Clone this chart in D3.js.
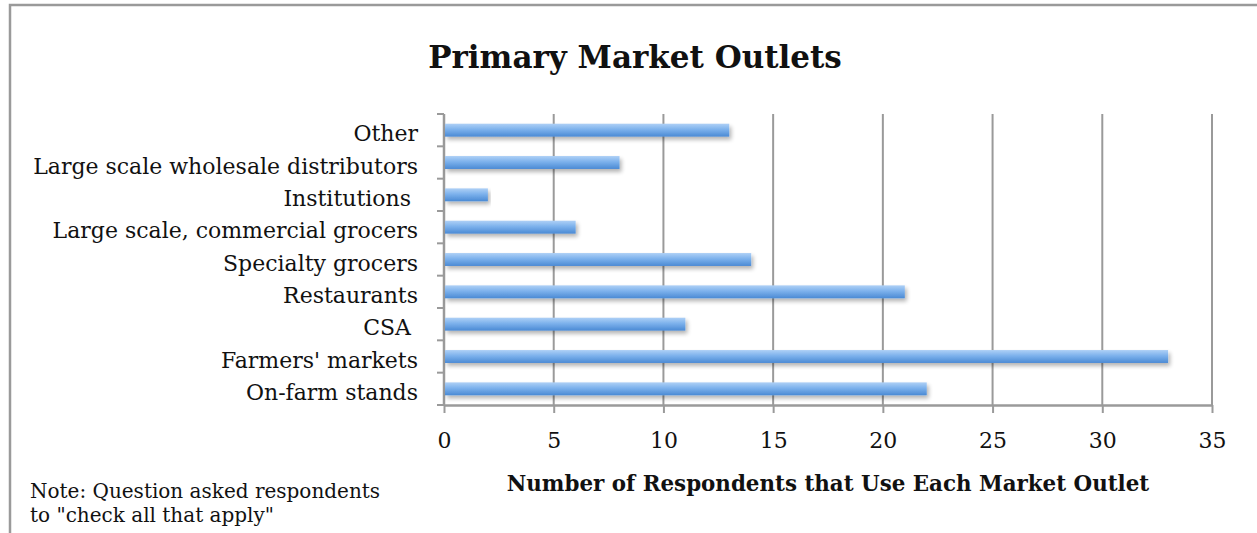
<!DOCTYPE html>
<html>
<head>
<meta charset="utf-8">
<script src="https://cdn.jsdelivr.net/npm/d3@7"></script>
<style>
  html, body { margin: 0; padding: 0; background: #fff; }
  svg { display: block; }
  text { white-space: pre; }
</style>
</head>
<body>
<svg id="chart" width="1257" height="533"></svg>
<script>
// Market outlet categories, top to bottom
const categories = [
  "Other",
  "Large scale wholesale distributors",
  "Institutions ",
  "Large scale, commercial grocers",
  "Specialty grocers",
  "Restaurants",
  "CSA ",
  "Farmers' markets",
  "On-farm stands"
];
// Respondents using each outlet
const values = [13, 8, 2, 6, 14, 21, 11, 33, 22];
const xTicks = [0, 5, 10, 15, 20, 25, 30, 35];

const title = "Primary Market Outlets";
const xTitle = "Number of Respondents that Use Each Market Outlet";
const noteLines = ["Note: Question asked respondents", "to \"check all that apply\""];

const svg = d3.select("#chart");
const serif = "'DejaVu Serif', 'Liberation Serif', serif";
const gridColor = "#9a9a9a";

const plot = { left: 444, right: 1212, top: 114, bottom: 405 };

const x = d3.scaleLinear().domain([0, 35]).range([plot.left, plot.right]);
const y = d3.scaleBand().domain(categories).range([plot.top, plot.bottom]).paddingInner(0.6).paddingOuter(0.3);

// Defs: bar gradient and soft shadow
const defs = svg.append("defs");
const grad = defs.append("linearGradient").attr("id", "barGrad")
  .attr("x1", 0).attr("y1", 0).attr("x2", 0).attr("y2", 1);
grad.append("stop").attr("offset", "0%").attr("stop-color", "#aed0f6");
grad.append("stop").attr("offset", "45%").attr("stop-color", "#7cb1ec");
grad.append("stop").attr("offset", "100%").attr("stop-color", "#4a8ad4");

const shadow = defs.append("filter").attr("id", "barShadow")
  .attr("x", "-5%").attr("y", "-60%").attr("width", "110%").attr("height", "280%");
shadow.append("feGaussianBlur").attr("in", "SourceAlpha").attr("stdDeviation", 2.2).attr("result", "blur");
shadow.append("feOffset").attr("in", "blur").attr("dx", 2).attr("dy", 3).attr("result", "off");
shadow.append("feComponentTransfer").attr("in", "off").attr("result", "shade")
  .append("feFuncA").attr("type", "linear").attr("slope", 0.3);
const merge = shadow.append("feMerge");
merge.append("feMergeNode").attr("in", "shade");
merge.append("feMergeNode").attr("in", "SourceGraphic");

// Outer frame
svg.append("rect")
  .attr("x", 10).attr("y", 5).attr("width", 1260).attr("height", 540)
  .attr("fill", "none").attr("stroke", gridColor).attr("stroke-width", 2.5);

// Title
svg.append("text")
  .attr("x", 635).attr("y", 68)
  .attr("text-anchor", "middle")
  .attr("font-family", serif).attr("font-weight", "bold").attr("font-size", 31)
  .attr("fill", "#111")
  .text(title);

// Vertical gridlines
svg.append("g").selectAll("line")
  .data(xTicks.filter(d => d > 0))
  .join("line")
  .attr("x1", d => x(d)).attr("x2", d => x(d))
  .attr("y1", plot.top).attr("y2", plot.bottom)
  .attr("stroke", gridColor).attr("stroke-width", 2);

// X axis
const xAxis = svg.append("g")
  .attr("transform", `translate(0,${plot.bottom})`)
  .call(d3.axisBottom(x).tickValues(xTicks).tickSize(8).tickPadding(19).tickSizeOuter(0));
xAxis.select(".domain").attr("stroke", gridColor).attr("stroke-width", 2.5);
xAxis.selectAll(".tick line").attr("stroke", gridColor).attr("stroke-width", 2);
xAxis.selectAll(".tick text")
  .attr("font-family", serif).attr("font-size", 22).attr("fill", "#111");

// Y axis (ticks sit between categories)
const yAxis = svg.append("g").attr("transform", `translate(${plot.left},0)`);
yAxis.append("line")
  .attr("x1", 0).attr("x2", 0).attr("y1", plot.top).attr("y2", plot.bottom)
  .attr("stroke", gridColor).attr("stroke-width", 2.5);
const edges = d3.range(categories.length + 1).map(i => plot.top + i * (plot.bottom - plot.top) / categories.length);
yAxis.selectAll("line.tk").data(edges).join("line").attr("class", "tk")
  .attr("x1", -7).attr("x2", 0).attr("y1", d => d).attr("y2", d => d)
  .attr("stroke", gridColor).attr("stroke-width", 2);
yAxis.selectAll("text").data(categories).join("text")
  .attr("x", -26)
  .attr("y", d => y(d) + y.bandwidth() / 2 + 11)
  .attr("text-anchor", "end")
  .attr("font-family", serif).attr("font-size", 22).attr("fill", "#111")
  .text(d => d);

// Bars
svg.append("g").selectAll("rect")
  .data(categories.map((c, i) => ({ c, v: values[i] })))
  .join("rect")
  .attr("x", x(0) + 1)
  .attr("y", d => y(d.c))
  .attr("width", d => x(d.v) - x(0) - 1)
  .attr("height", y.bandwidth())
  .attr("fill", "url(#barGrad)")
  .attr("filter", "url(#barShadow)");

// Axis title
svg.append("text")
  .attr("x", 828).attr("y", 491)
  .attr("text-anchor", "middle")
  .attr("font-family", serif).attr("font-weight", "bold").attr("font-size", 21.4)
  .attr("fill", "#111")
  .text(xTitle);

// Note
svg.append("g").selectAll("text").data(noteLines).join("text")
  .attr("x", 30).attr("y", (d, i) => 498 + i * 24)
  .attr("font-family", serif).attr("font-size", 20).attr("fill", "#111")
  .text(d => d);
</script>
</body>
</html>
